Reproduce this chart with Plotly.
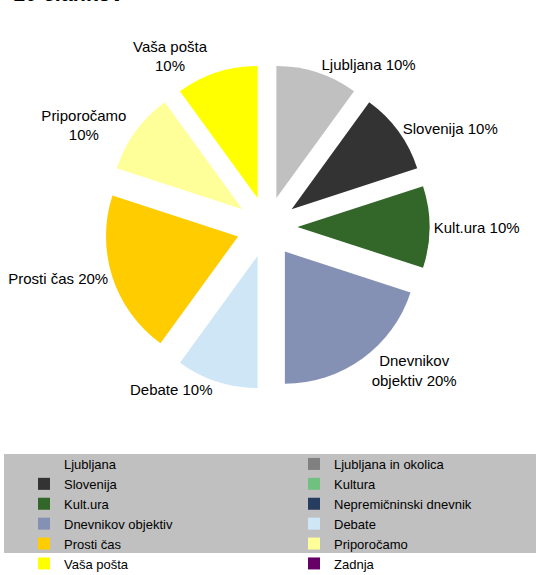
import plotly.graph_objects as go

# ---- data ----
labels = ["Ljubljana", "Ljubljana in okolica", "Slovenija", "Kultura", "Kult.ura",
          "Nepremičninski dnevnik", "Dnevnikov objektiv", "Debate", "Prosti čas",
          "Priporočamo", "Vaša pošta", "Zadnja"]
values = [1, 0, 1, 0, 1, 0, 2, 1, 2, 1, 1, 0]
# how each slice label is wrapped (display name + separator before the percentage)
label_names = ["Ljubljana", "", "Slovenija", "", "Kult.ura", "", "Dnevnikov<br>objektiv",
               "Debate", "Prosti čas", "Priporočamo", "Vaša pošta", ""]
label_seps = [" ", "", " ", "", " ", "", " ", " ", " ", "<br>", "<br>", ""]
colors = ["#C0C0C0", "#808080", "#333333", "#70C080", "#336629", "#263D60",
          "#8591B4", "#CFE6F7", "#FFCC00", "#FFFF99", "#FFFF00", "#660066"]
title_text = "10 člankov"

W, H = 541, 575
FONT = "Liberation Sans, Arial, sans-serif"

total = sum(values)
texts = [f"{n}{s}{round(v / total * 100)}%" if v else ""
         for n, s, v in zip(label_names, label_seps, values)]

# pie placement (pixels in the figure)
cx, cy, half = 267, 227, 162.5

fig = go.Figure(go.Pie(
    labels=labels, values=values, sort=False, direction="clockwise", rotation=0,
    marker=dict(colors=colors, line=dict(width=0)),
    pull=[0.23] * len(values),
    text=texts, textinfo="text", textposition="outside",
    textfont=dict(family=FONT, size=15, color="#000000"),
    showlegend=True,
    domain=dict(x=[(cx - half) / W, (cx + half) / W],
                y=[1 - (cy + half) / H, 1 - (cy - half) / H]),
))

# grey legend panel
fig.add_shape(type="rect", xref="paper", yref="paper",
              x0=4 / W, x1=536 / W, y0=1 - 553 / H, y1=1 - 454 / H,
              fillcolor="#C0C0C0", line=dict(width=0), layer="below")

fig.add_annotation(text=f"<b>{title_text}</b>", xref="paper", yref="paper",
                   x=11 / W, y=1 - 7.5 / H, xanchor="left", yanchor="bottom",
                   showarrow=False, font=dict(family=FONT, size=21.5, color="#000000"))

fig.update_layout(
    width=W, height=H,
    margin=dict(l=0, r=0, t=0, b=0, autoexpand=False),
    paper_bgcolor="#FFFFFF", plot_bgcolor="#FFFFFF",
    font=dict(family=FONT, size=13, color="#000000"),
    legend=dict(orientation="h", x=24 / W, xanchor="left", y=1 - 449 / H, yanchor="top",
                entrywidth=225, entrywidthmode="pixels", bgcolor="rgba(0,0,0,0)",
                font=dict(family=FONT, size=13, color="#000000"), traceorder="normal"),
)

# let the figure start at the window's top-left corner (no default body margin)
fig.write_html("out.html", config={"displayModeBar": False},
               post_script="document.body.style.margin='0';")
